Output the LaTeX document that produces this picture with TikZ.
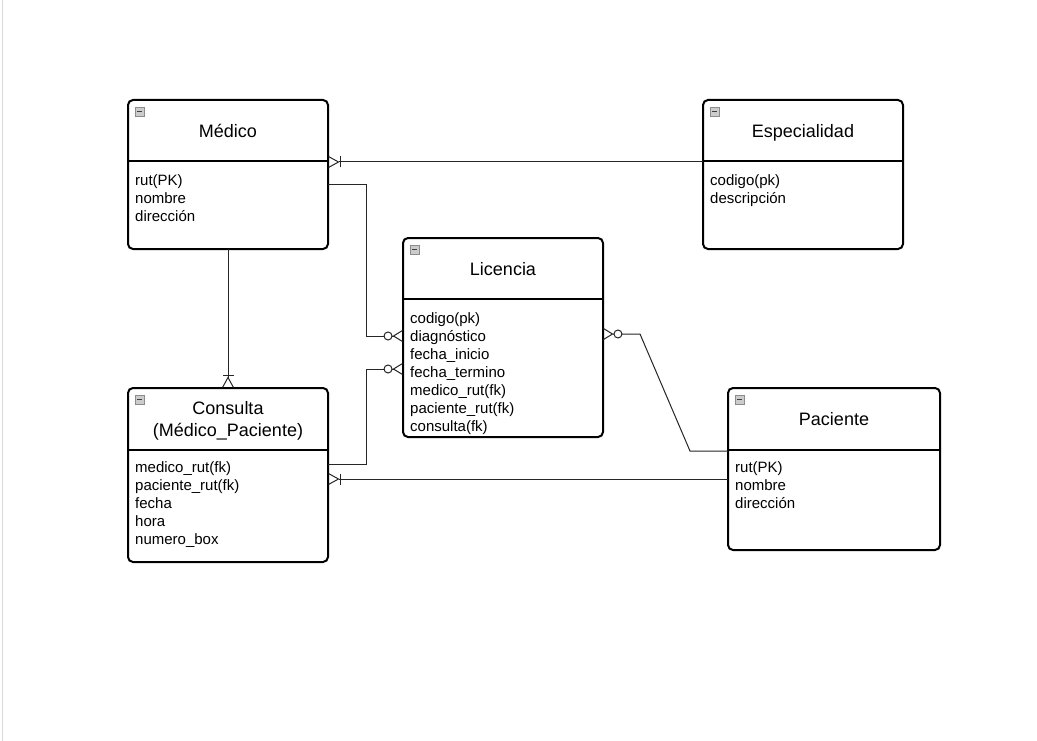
\documentclass[tikz,border=0pt]{standalone}
\usepackage{fontspec}
\setmainfont{Liberation Sans}
\usetikzlibrary{arrows.meta, positioning}

\tikzset{
  entity/.style={draw, line width=2pt, rounded corners=5pt, inner sep=0pt, outer sep=0pt, anchor=north west},
  divider/.style={line width=2pt},
  head/.style={font=\fontsize{18}{22}\selectfont, align=center},
  attr/.style={font=\fontsize{15}{18}\selectfont, anchor=base west, inner sep=0pt},
  icon/.style={draw=black!45, fill=black!20, line width=0.8pt},
  rel/.style={draw=black!85, line width=1pt},
  onemany/.style={rel, -{Bar[width=11pt] Straight Barb[reversed, length=10pt, width=11pt]}},
  zeromany/.style={rel, -{Circle[open, length=9pt, fill=white] Straight Barb[reversed, length=9pt, width=11pt]}}
}

% icon in the top left corner of a box
\newcommand{\minusicon}[1]{
  \draw[icon] ([xshift=7pt, yshift=-7pt]#1.north west) rectangle ++(9, 9);
  \draw[black!75, line width=1.2pt] ([xshift=9pt, yshift=-11.5pt]#1.north west) -- ++(5, 0);
}
% attribute lines, baselines 18 apart
\newcommand{\attrlist}[3]{
  \foreach \a [count=\i] in {#3} \node[attr] at (#1, #2 + 18*\i) {\a};
}

\begin{document}
\begin{tikzpicture}[x=1pt, y=-1pt]
  \useasboundingbox[fill=white] (0, 0) rectangle (1037, 741);
  \draw[black!15, line width=1.5pt] (2.5, 0) -- (2.5, 741);

  % Medico
  \node[entity, minimum width=200pt, minimum height=149pt] (medico) at (128, 100) {};
  \draw[divider] ([yshift=-61pt]medico.north west) -- ([yshift=-61pt]medico.north east);
  \node[head, anchor=base] at (228, 137.5) {Médico};
  \attrlist{135}{167.5}{rut(PK), nombre, dirección}
  \minusicon{medico}

  % Especialidad
  \node[entity, minimum width=200pt, minimum height=149pt] (especialidad) at (703, 100) {};
  \draw[divider] ([yshift=-61pt]especialidad.north west) -- ([yshift=-61pt]especialidad.north east);
  \node[head, anchor=base] at (803, 137.5) {Especialidad};
  \attrlist{710}{167.5}{codigo(pk), descripción}
  \minusicon{especialidad}

  % Licencia
  \node[entity, minimum width=200pt, minimum height=199pt] (licencia) at (403, 238) {};
  \draw[divider] ([yshift=-61pt]licencia.north west) -- ([yshift=-61pt]licencia.north east);
  \node[head, anchor=base] at (503, 275.5) {Licencia};
  \attrlist{410}{305.5}{codigo(pk), diagnóstico, fecha\_inicio, fecha\_termino, medico\_rut(fk), paciente\_rut(fk), consulta(fk)}
  \minusicon{licencia}

  % Consulta
  \node[entity, minimum width=200pt, minimum height=174pt] (consulta) at (128, 388) {};
  \draw[divider] ([yshift=-62pt]consulta.north west) -- ([yshift=-62pt]consulta.north east);
  \node[head] at (228, 421) {Consulta\\(Médico\_Paciente)};
  \attrlist{135}{454.5}{medico\_rut(fk), paciente\_rut(fk), fecha, hora, numero\_box}
  \minusicon{consulta}

  % Paciente
  \node[entity, minimum width=212pt, minimum height=162pt] (paciente) at (728, 388) {};
  \draw[divider] ([yshift=-62pt]paciente.north west) -- ([yshift=-62pt]paciente.north east);
  \node[head, anchor=base] at (834, 425.5) {Paciente};
  \attrlist{735}{454.5}{rut(PK), nombre, dirección}
  \minusicon{paciente}

  % relations
  \coordinate (lic-a) at ([yshift=-98pt]licencia.north west);
  \coordinate (lic-b) at ([yshift=-131pt]licencia.north west);
  \coordinate (pac-c) at ([yshift=-91pt]paciente.north west);

  \draw[onemany] ([yshift=-62pt]especialidad.north west) -- ([yshift=-62pt]medico.north east);
  \draw[onemany] (medico.south) -- (consulta.north);
  \draw[onemany] (pac-c) -- (consulta.east |- pac-c);
  \draw[zeromany] ([yshift=-85pt]medico.north east) -| ([xshift=-37pt]lic-a) -- (lic-a);
  \draw[zeromany] ([yshift=-76pt]consulta.north east) -| ([xshift=-37pt]lic-b) -- (lic-b);
  \draw[zeromany] ([yshift=-63pt]paciente.north west) -- ++(-38, 0) -- ++(-50, -117) -- ([yshift=-96pt]licencia.north east);
\end{tikzpicture}
\end{document}
